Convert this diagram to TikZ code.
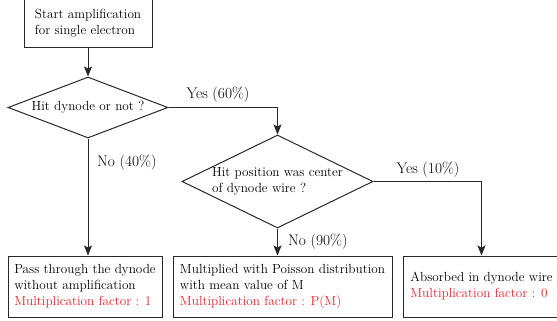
\documentclass[tikz,border=0pt]{standalone}
\usetikzlibrary{
    arrows.meta,
    shapes.geometric,
    positioning
}
\definecolor{flowgray}{RGB}{40,40,40}
\definecolor{factorred}{RGB}{237,28,36}
\tikzset{
    % Box styles
    action box/.style={
        draw=flowgray,
        line width=1pt,
        rectangle,
        minimum height=61pt,
        inner sep=0pt,
        align=left,
        text=black,
        font=\fontsize{13.2}{16}\selectfont
    },
    decision box/.style={
        draw=flowgray,
        line width=1pt,
        diamond,
        inner sep=0pt,
        align=left,
        text=black,
        font=\fontsize{13.2}{16}\selectfont
    },
    % Arrow styles
    flow arrow/.style={
        -{Stealth[length=10pt,width=8pt,inset=2pt]},
        line width=1pt,
        flowgray
    },
    % Label styles
    branch label/.style={
        inner sep=0pt,
        text=black,
        font=\fontsize{15.4}{18}\selectfont
    }
}

\begin{document}
\begin{tikzpicture}[x=1pt,y=-1pt]
        \useasboundingbox (0,0) rectangle (557,321);

        % Define nodes
        \node[action box, minimum width=128pt, minimum height=50pt] (start) at (88,23)
            {Start amplification\\for single electron};
        \node[decision box, aspect=2.62, minimum width=160pt, minimum height=61pt] (hit) at (88,107.5)
            {Hit dynode or not ?};
        \node[decision box, aspect=2.05, minimum width=191pt, minimum height=93pt] (center) at (277.5,181.5)
            {Hit position was center\\of dynode wire ?};
        \node[action box, minimum width=154pt] (pass) at (85,286.5)
            {Pass through the dynode\\without amplification\\{\color{factorred}Multiplication factor : 1}};
        \node[action box, minimum width=219pt] (multi) at (282.5,286.5)
            {Multiplied with Poisson distribution\\with mean value of M\\{\color{factorred}Multiplication factor : P(M)}};
        \node[action box, minimum width=157pt] (absorb) at (481.5,286.5)
            {Absorbed in dynode wire\\{\color{factorred}Multiplication factor : 0}};

        % Draw edges
        \draw[flow arrow] (start) -- (hit);
        \draw[flow arrow] (hit.east) -| (center.north);
        \draw[flow arrow] (hit.south) -- (hit.south |- pass.north);
        \draw[flow arrow] (center.south) -- (center.south |- multi.north);
        \draw[flow arrow] (center.east) -| (absorb.north);

        % Branch labels
        \node[branch label] (yes60) at (218,95) {Yes (60\%)};
        \node[branch label, anchor=west] (no40) at (97,163) {No (40\%)};
        \node[branch label] (yes10) at (428,170) {Yes (10\%)};
        \node[branch label, anchor=west] (no90) at (288,242) {No (90\%)};
    \end{tikzpicture}
\end{document}
